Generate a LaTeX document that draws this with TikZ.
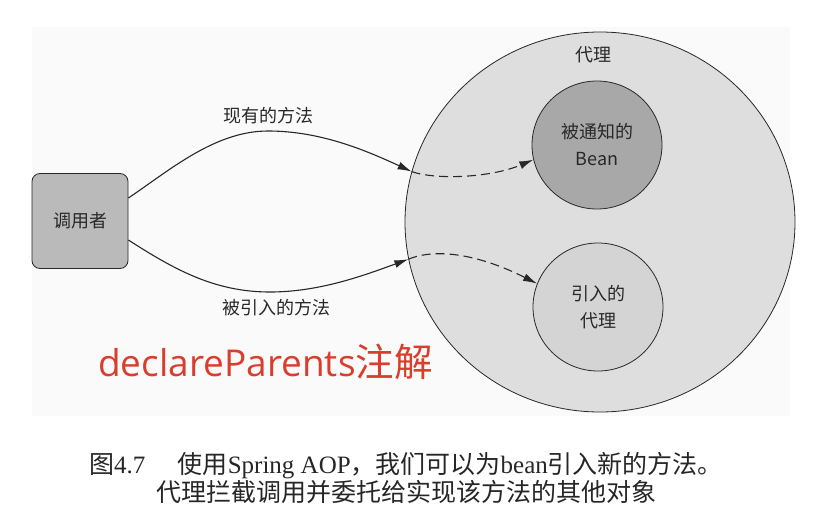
\documentclass[tikz,border=0pt]{standalone}
\usepackage{fontspec}
\setmainfont{Liberation Serif}
\newfontfamily\cjk{Noto Sans CJK SC}
\newfontfamily\notesans{Open Sans}
\usepackage{tikz}
\usetikzlibrary{positioning, shapes.geometric, arrows.meta}

\definecolor{ink}{RGB}{40,40,40}
\definecolor{notered}{RGB}{217,62,44}

\begin{document}
\begin{tikzpicture}[x=1pt, y=-1pt,
        caller/.style={draw=ink, thick, fill=black!27, rounded corners=8pt, minimum width=96pt, minimum height=95pt, font=\cjk\fontsize{18}{24}\selectfont, text=ink},
        proxy/.style={ellipse, draw=ink, thick, fill=black!13, minimum width=390pt, minimum height=380pt},
        target/.style={ellipse, draw=ink, thick, minimum width=130pt, minimum height=128pt, align=center, font=\cjk\fontsize{18}{27}\selectfont, text=ink},
        tag/.style={font=\cjk\fontsize{18}{24}\selectfont, text=ink},
        call/.style={line width=1.1pt, draw=ink, -{Latex[length=14pt, width=8pt]}},
        hop/.style={call, dash pattern=on 9pt off 5pt}
    ]

    % Page and panel
    \useasboundingbox (0,0) rectangle (814,514);
    \fill[black!2] (32,27) rectangle (790,416);

    % Caller
    \node[caller] (caller) at (80,221) {调用者};

    % Proxy with the two targets
    \node[proxy] (proxy) at (600,222) {};
    \node[tag] (proxytag) at (593,55) {代理};
    \node[target, fill=black!34] (bean) at (597,145) {被通知的\\Bean};
    \node[target, fill=black!17] (intro) at (598,307) {引入的\\代理};

    % Existing method
    \draw[call] ([yshift=23pt]caller.east) .. controls (170,170) and (215,131) .. (268,131)
        .. controls (320,131) and (365,150) .. (proxy.165);
    \draw[hop] (proxy.165) .. controls (435,180) and (490,178) .. (bean.193);
    \node[tag] (existing) at (268,116) {现有的方法};

    % Introduced method
    \draw[call] ([yshift=-19pt]caller.east) .. controls (175,270) and (215,292) .. (270,292)
        .. controls (320,292) and (365,275) .. (proxy.191);
    \draw[hop] (proxy.191) .. controls (430,250) and (470,250) .. (intro.159);
    \node[tag] (introduced) at (276,308) {被引入的方法};

    % Red note
    \node[anchor=west, text=notered, inner sep=0pt] (note) at (98,362)
        {{\notesans\fontsize{37}{40}\selectfont declareParents}{\cjk\fontsize{38.5}{40}\selectfont 注解}};

    % Caption
    \node[align=center, text=black!85, font=\fontsize{25}{28}\selectfont] (caption) at (406,478)
        {{\cjk 图}4.7\hspace{1.3em}{\cjk 使用}Spring AOP{\cjk ，我们可以为}bean{\cjk 引入新的方法。}\\
         {\cjk 代理拦截调用并委托给实现该方法的其他对象}};

\end{tikzpicture}
\end{document}
